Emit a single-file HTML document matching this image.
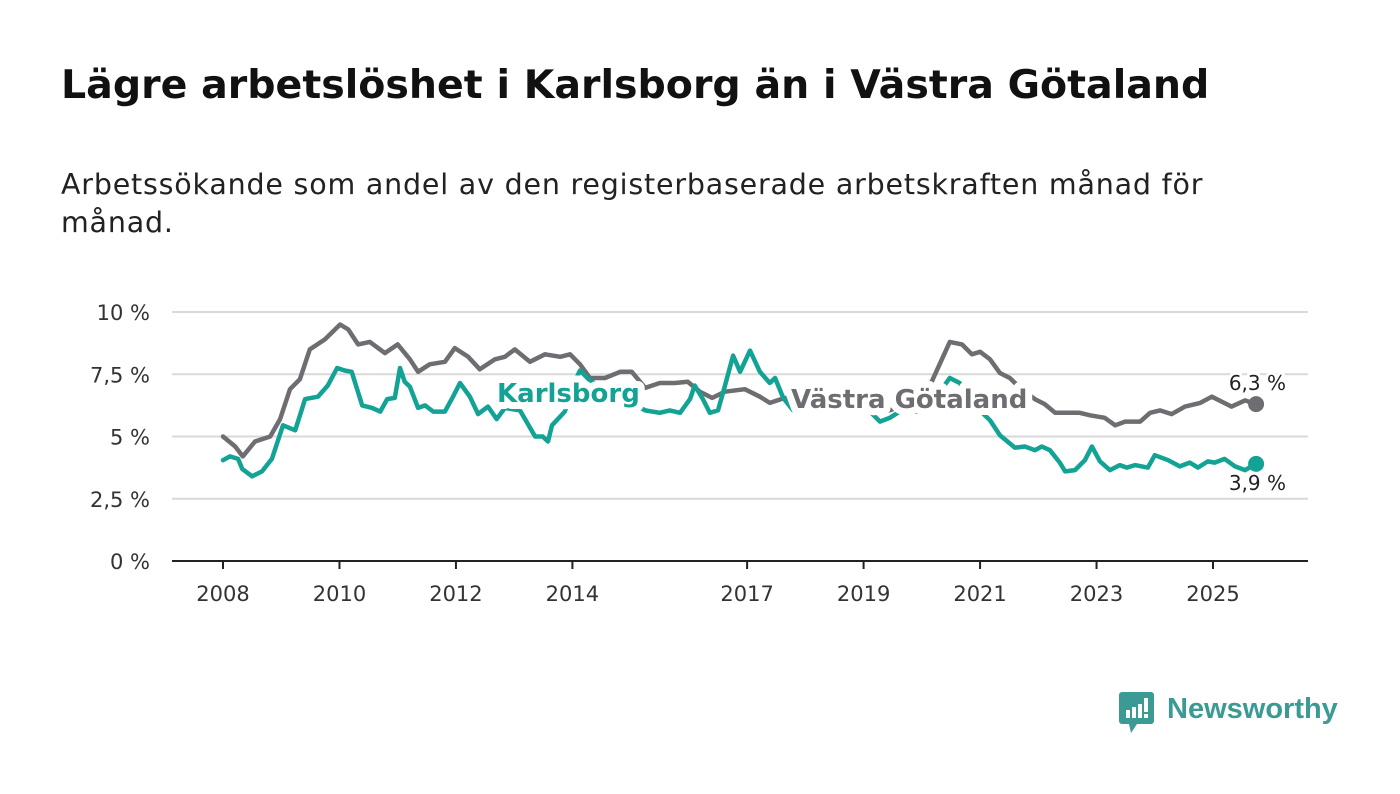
<!DOCTYPE html>
<html><head><meta charset="utf-8">
<style>
body{margin:0;background:#fff;width:1400px;height:794px;overflow:hidden;font-family:"DejaVu Sans","Liberation Sans",sans-serif;}
#title{position:absolute;left:61px;top:62px;font-size:39.5px;font-weight:bold;color:#111;margin:0;white-space:nowrap;}
#sub{position:absolute;left:61px;top:166px;font-size:28.5px;letter-spacing:0.8px;color:#222;line-height:38px;width:1300px;margin:0;}
svg{position:absolute;left:0;top:0;}
</style></head><body>
<h1 id="title">Lägre arbetslöshet i Karlsborg än i Västra Götaland</h1>
<p id="sub">Arbetssökande som andel av den registerbaserade arbetskraften månad för<br>månad.</p>
<svg id="chart" width="1400" height="794"></svg>
<script>
const yTicks=[0,2.5,5,7.5,10];
const yTickLabels=["0 %","2,5 %","5 %","7,5 %","10 %"];
const xTicks=[2008,2010,2012,2014,2017,2019,2021,2023,2025];
const vgDates=[2008.00,2008.21,2008.34,2008.55,2008.81,2008.98,2009.15,2009.32,2009.49,2009.75,2010.01,2010.15,2010.32,2010.52,2010.78,2011.00,2011.21,2011.35,2011.55,2011.81,2011.98,2012.21,2012.41,2012.67,2012.84,2013.01,2013.27,2013.53,2013.79,2013.96,2014.13,2014.30,2014.56,2014.82,2015.02,2015.25,2015.50,2015.76,2015.98,2016.19,2016.40,2016.62,2016.96,2017.22,2017.39,2017.65,2017.91,2018.42,2018.94,2019.37,2019.80,2020.17,2020.48,2020.69,2020.86,2021.00,2021.17,2021.34,2021.51,2021.60,2021.77,2021.94,2022.11,2022.29,2022.71,2022.89,2023.14,2023.32,2023.49,2023.75,2023.92,2024.09,2024.29,2024.52,2024.78,2024.98,2025.15,2025.32,2025.55,2025.74];
const vgValues=[5.0,4.6,4.2,4.8,5.0,5.7,6.9,7.3,8.5,8.9,9.5,9.3,8.7,8.8,8.35,8.7,8.1,7.6,7.9,8.0,8.55,8.2,7.7,8.1,8.2,8.5,8.0,8.3,8.2,8.3,7.9,7.35,7.35,7.6,7.6,6.95,7.15,7.15,7.2,6.8,6.55,6.8,6.9,6.6,6.35,6.55,6.3,6.2,6.1,6.0,6.3,7.2,8.8,8.7,8.3,8.4,8.1,7.55,7.35,7.15,6.8,6.5,6.3,5.95,5.95,5.85,5.75,5.45,5.6,5.6,5.95,6.05,5.9,6.2,6.35,6.6,6.4,6.2,6.45,6.3];
const kbDates=[2008.00,2008.12,2008.26,2008.33,2008.50,2008.67,2008.84,2009.03,2009.24,2009.41,2009.63,2009.80,2009.96,2010.09,2010.21,2010.39,2010.56,2010.70,2010.82,2010.95,2011.04,2011.12,2011.21,2011.35,2011.47,2011.61,2011.81,2011.95,2012.07,2012.24,2012.38,2012.55,2012.70,2012.84,2013.10,2013.36,2013.49,2013.58,2013.65,2013.87,2014.04,2014.13,2014.30,2014.56,2014.90,2015.25,2015.50,2015.67,2015.85,2016.02,2016.10,2016.24,2016.36,2016.50,2016.62,2016.76,2016.88,2017.05,2017.22,2017.39,2017.48,2017.62,2017.79,2018.25,2018.77,2019.11,2019.28,2019.45,2019.62,2019.97,2020.23,2020.48,2020.65,2020.91,2021.17,2021.34,2021.60,2021.77,2021.94,2022.06,2022.20,2022.37,2022.46,2022.63,2022.80,2022.92,2023.06,2023.23,2023.40,2023.52,2023.66,2023.88,2024.00,2024.23,2024.43,2024.60,2024.74,2024.91,2025.03,2025.20,2025.38,2025.55,2025.74];
const kbValues=[4.05,4.2,4.1,3.7,3.4,3.6,4.1,5.45,5.25,6.5,6.6,7.05,7.75,7.65,7.6,6.25,6.15,6.0,6.5,6.55,7.75,7.2,7.0,6.15,6.25,6.0,6.0,6.6,7.15,6.6,5.9,6.2,5.7,6.15,6.05,5.0,5.0,4.8,5.45,6.0,7.2,7.65,7.25,6.9,6.5,6.05,5.95,6.05,5.95,6.5,7.05,6.5,5.95,6.05,7.05,8.25,7.6,8.45,7.6,7.15,7.35,6.55,6.05,6.2,6.3,6.0,5.6,5.75,6.0,6.0,6.55,7.35,7.15,6.25,5.65,5.05,4.55,4.6,4.45,4.6,4.45,3.95,3.6,3.65,4.05,4.6,4.0,3.65,3.85,3.75,3.85,3.75,4.25,4.05,3.8,3.95,3.75,4.0,3.95,4.1,3.8,3.65,3.9];
const endLabels=["6,3 %","3,9 %"];

const NS="http://www.w3.org/2000/svg";
const svg=document.getElementById('chart');
const X=y=>223+(y-2008)*(990/17);
const Y=v=>561-v*24.9;
function mk(t,a){const e=document.createElementNS(NS,t);for(const k in a)e.setAttribute(k,a[k]);svg.appendChild(e);return e;}
yTicks.forEach((t,i)=>{
  if(t>0){const g=mk('line',{x1:172,x2:1308,y1:Y(t),y2:Y(t),stroke:'#d9d9d9','stroke-width':2});
  
  }
  const l=mk('text',{x:150,y:Y(t)+8,'text-anchor':'end','font-size':21,fill:'#333'});
  l.textContent=yTickLabels[i];
  
  
});
const ax=mk('line',{x1:172,x2:1308,y1:561,y2:561,stroke:'#222','stroke-width':2});


xTicks.forEach(t=>{
  const tk=mk('line',{x1:X(t),x2:X(t),y1:561,y2:569,stroke:'#222','stroke-width':2});
  
  
  const l=mk('text',{x:X(t),y:601,'text-anchor':'middle','font-size':21,fill:'#333'});
  l.textContent=t;
  
  
});
function line(d,v,c,name){
  const p=mk('path',{d:d.map((t,i)=>(i?'L':'M')+X(t).toFixed(1)+','+Y(v[i]).toFixed(1)).join(''),fill:'none',stroke:c,'stroke-width':4.5,'stroke-linejoin':'round','stroke-linecap':'round'});
  
  
  const n=d.length-1;
  const c2=mk('circle',{cx:X(d[n]),cy:Y(v[n]),r:8,fill:c});
  
  
}
const GRAY='#6e6d72',TEAL='#13a395';
line(vgDates,vgValues,GRAY,'vastra-gotaland-line');
line(kbDates,kbValues,TEAL,'karlsborg-line');
function lab(txt,x,y,c,name,size,w,anchor){
  const t=mk('text',{x:x,y:y,fill:c,'font-size':size,'font-weight':w,stroke:'#fff','stroke-width':w==='bold'?14:6,'paint-order':'stroke','stroke-linejoin':'round','text-anchor':anchor||'start'});
  t.textContent=txt;
  
  
}
lab('Karlsborg',497,402,TEAL,'karlsborg-label',26,'bold');
lab('Västra Götaland',791,408,GRAY,'vastra-gotaland-label',26,'bold');
lab(endLabels[0],1286,390,'#222','vg-end-value',20,'normal','end');
lab(endLabels[1],1286,490,'#222','kb-end-value',20,'normal','end');
</script>
<div style="position:absolute;left:1119px;top:692px;height:42px;display:flex;align-items:center;">
<svg width="36" height="42" style="position:static"><rect x="0" y="0" width="35" height="32" rx="3" fill="#3b9a93"/><polygon points="10,32 18,32 12,41" fill="#3b9a93"/><rect x="7" y="18" width="4" height="8" fill="#fff"/><rect x="13" y="15" width="4" height="11" fill="#fff"/><rect x="19" y="12" width="4" height="14" fill="#fff"/><rect x="25" y="6" width="4" height="14" fill="#fff"/><rect x="25" y="22" width="4" height="4" fill="#fff"/></svg>
<span style="font-family:'Liberation Sans',sans-serif;font-size:29px;font-weight:bold;color:#3b9a93;margin-left:12px;margin-top:-8px">Newsworthy</span>
</div>
</body></html>
